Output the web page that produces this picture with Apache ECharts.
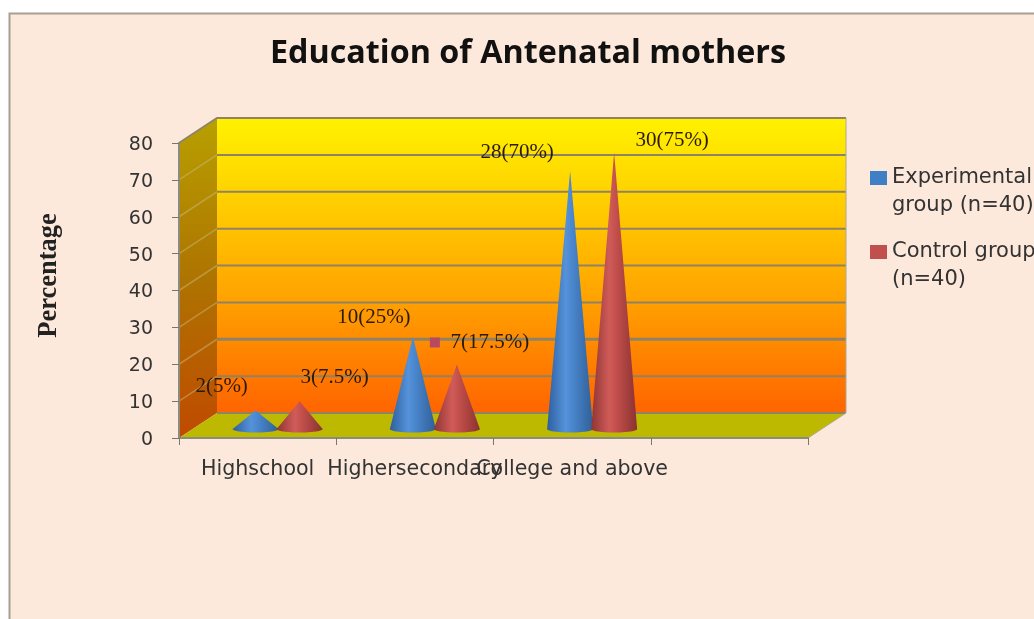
<!DOCTYPE html>
<html>
<head>
<meta charset="utf-8">
<title>Education of Antenatal mothers</title>
<script src="https://cdn.jsdelivr.net/npm/echarts@6/dist/echarts.min.js"></script>
<style>
  html, body { margin: 0; background: #fff; overflow: hidden; }
  #chart { width: 1034px; height: 619px; }
</style>
</head>
<body>
<div id="chart"></div>
<script>
"use strict";

const categories = ["Highschool", "Highersecondary", "College and above", ""];
const experimentalCounts = [2, 10, 28];
const experimentalPercent = [5, 25, 70];
const controlCounts = [3, 7, 30];
const controlPercent = [7.5, 17.5, 75];
const yTicks = [0, 10, 20, 30, 40, 50, 60, 70, 80];

// the fake 3D box: how far the back wall sits behind the front plane
const DEPTH_X = 38, DEPTH_Y = -25;
const CONE_LIFT = -9, CONE_HALF_W = 23, CONE_RY = 3.5;
const LABEL_FONT = "21px 'Liberation Serif'";

// hand-placed data labels, relative to each cone tip (as in the original)
const blueLabelOffsets = [[-34, -24], [-39, -19], [-53, -18]];
const redLabelOffsets = [[35, -24], [33, -22], [58, -12]];

const linear = (x2, y2, stops) => ({
  type: "linear", x: 0, y: 0, x2, y2,
  colorStops: stops.map(([offset, color]) => ({ offset, color })),
});

// back wall, side wall, floor and grid lines, all hung off the axis scales
const renderBox = (params, api) => {
  const bottom = api.coord(["Highschool", 0])[1];
  const top = api.coord(["Highschool", 80])[1];
  const sys = params.coordSys;
  const left = sys.x, right = sys.x + sys.width;
  const poly = (points, fill) => ({ type: "polygon", shape: { points }, style: { fill } });

  const children = [
    poly([[left + DEPTH_X, top + DEPTH_Y], [right + DEPTH_X, top + DEPTH_Y],
          [right + DEPTH_X, bottom + DEPTH_Y], [left + DEPTH_X, bottom + DEPTH_Y]],
      linear(0, 1, [[0, "#fff200"], [0.3, "#ffcc00"], [0.6, "#ffa400"], [1, "#ff6400"]])),
    poly([[left, top], [left + DEPTH_X, top + DEPTH_Y],
          [left + DEPTH_X, bottom + DEPTH_Y], [left, bottom]],
      linear(0, 1, [[0, "#b8a000"], [0.5, "#ae7400"], [1, "#c04a00"]])),
    poly([[left, bottom], [left + DEPTH_X, bottom + DEPTH_Y],
          [right + DEPTH_X, bottom + DEPTH_Y], [right, bottom]], "#bdb900"),
  ];

  yTicks.forEach((tick) => {
    const y = api.coord(["Highschool", tick])[1];
    const line = (x1, y1, x2, y2, stroke, lineWidth) => ({
      type: "line", shape: { x1, y1, x2, y2 }, style: { stroke, lineWidth },
    });
    if (tick > 0) {
      children.push(line(left, y, left + DEPTH_X, y + DEPTH_Y, "rgba(205,190,140,0.45)", 1.5));
    }
    children.push(line(left + DEPTH_X, y + DEPTH_Y, right + DEPTH_X, y + DEPTH_Y,
      "#8f8366", tick === 20 ? 3 : 2));
  });
  children.push({
    type: "polyline",
    shape: { points: [[left, top], [left + DEPTH_X, top + DEPTH_Y], [right + DEPTH_X, top + DEPTH_Y]] },
    style: { stroke: "#8f8366", lineWidth: 2, fill: "none" },
  });
  children.push({
    type: "polyline",
    shape: { points: [[right, bottom], [right + DEPTH_X, bottom + DEPTH_Y], [right + DEPTH_X, top + DEPTH_Y]] },
    style: { stroke: "#b0a890", lineWidth: 1, fill: "none" },
  });
  return { type: "group", children };
};

const makeCone = (counts, labelOffsets, shiftX, stops, keyColor) => (params, api) => {
  const i = params.dataIndex;
  const [cx, tipBase] = api.coord([api.value(0), api.value(1)]);
  const x = cx + shiftX;
  const tipY = tipBase + CONE_LIFT;
  const baseY = api.coord([api.value(0), 0])[1] + CONE_LIFT;

  const points = [[x, tipY]];
  for (let a = 0; a <= 24; a++) {
    const t = (a / 24) * Math.PI;
    points.push([x + CONE_HALF_W * Math.cos(t), baseY + CONE_RY * Math.sin(t)]);
  }
  const [dx, dy] = labelOffsets[i];
  const label = counts[i] + "(" + api.value(1) + "%)";
  const children = [
    { type: "polygon", shape: { points }, style: { fill: linear(1, 0, stops) } },
    {
      type: "text",
      style: {
        x: x + dx, y: tipY + dy, text: label, font: LABEL_FONT,
        fill: "#2a1a08", align: "center", verticalAlign: "middle",
      },
    },
  ];
  if (keyColor && i === 1) {
    children.push({
      type: "rect",
      shape: { x: x + dx - 60, y: tipY + dy - 5, width: 10, height: 10 },
      style: { fill: keyColor },
    });
  }
  return { type: "group", children };
};

const blueStops = [[0, "#2e5f9e"], [0.4, "#5592da"], [0.55, "#4a86cc"], [1, "#2f5f98"]];
const redStops = [[0, "#8f3534"], [0.4, "#d05c59"], [0.55, "#c24f4c"], [1, "#8a3230"]];

const chart = echarts.init(document.getElementById("chart"), null, { renderer: "canvas" });
chart.setOption({
  animation: false,
  tooltip: { show: false },
  graphic: [{
    type: "rect", silent: true, z: -1,
    shape: { x: 9.5, y: 13.5, width: 1100, height: 700 },
    style: { fill: "#fde9db", stroke: "#a89f92", lineWidth: 2 },
  }],
  title: {
    text: "Education of Antenatal mothers",
    left: 523, top: 33, textAlign: "center",
    textStyle: { fontFamily: "Open Sans", fontWeight: 700, fontSize: 32.3, color: "#111" },
  },
  legend: {
    orient: "vertical", left: 865, top: 131,
    icon: "rect", itemWidth: 17, itemHeight: 14, itemGap: -10, selectedMode: false,
    // leading blank line keeps the key level with the first line of text
    formatter: (name) => name === "Experimental group (n=40)"
      ? "\nExperimental\ngroup (n=40)" : "\nControl group\n(n=40)",
    textStyle: { fontFamily: "DejaVu Sans", fontSize: 21, lineHeight: 28, color: "#333" },
    data: ["Experimental group (n=40)", "Control group (n=40)"],
  },
  grid: { left: 179, top: 143, width: 629, height: 295 },
  xAxis: {
    type: "category", data: categories, z: 5,
    axisLine: { lineStyle: { color: "#8b8b80", width: 2 } },
    axisTick: { show: true, length: 7, lineStyle: { color: "#77776c" } },
    axisLabel: {
      interval: 0, margin: 21, color: "#333", fontFamily: "DejaVu Sans", fontSize: 20.6,
    },
    splitLine: { show: false },
  },
  yAxis: {
    type: "value", min: 0, max: 80, interval: 10, z: 5,
    name: "Percentage", nameLocation: "middle", nameRotate: 90, nameGap: 116,
    nameTextStyle: {
      fontFamily: "Liberation Serif", fontWeight: 700, fontSize: 26.5, color: "#222",
      padding: [0, 0, 0, 30],
    },
    axisLine: { show: true, lineStyle: { color: "#8b8b80", width: 2 } },
    axisTick: { show: true, length: 7, lineStyle: { color: "#77776c" } },
    axisLabel: {
      margin: 26, color: "#333", fontFamily: "DejaVu Sans", fontSize: 19,
      verticalAlign: "top", lineHeight: 4,
    },
    splitLine: { show: false },
  },
  series: [
    {
      type: "custom", silent: true, z: 1, renderItem: renderBox, data: [[0, 0]],
      encode: { x: 0, y: 1 },
    },
    {
      name: "Experimental group (n=40)", type: "custom", silent: true, z: 3,
      itemStyle: { color: "#3f7fc6" },
      renderItem: makeCone(experimentalCounts, blueLabelOffsets, -2, blueStops),
      data: experimentalPercent.map((v, i) => [i, v]),
      encode: { x: 0, y: 1 },
    },
    {
      name: "Control group (n=40)", type: "custom", silent: true, z: 4,
      itemStyle: { color: "#c0504d" },
      renderItem: makeCone(controlCounts, redLabelOffsets, 42, redStops, "#b84a60"),
      data: controlPercent.map((v, i) => [i, v]),
      encode: { x: 0, y: 1 },
    },
  ],
});
</script>
</body>
</html>
